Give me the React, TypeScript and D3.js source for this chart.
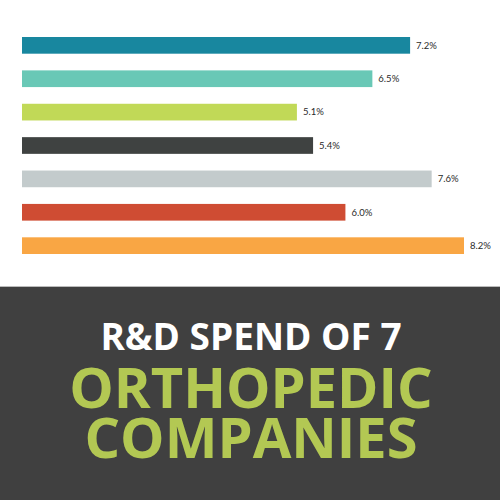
import * as d3 from 'd3';
import React from 'react';

const companies = ['A', 'B', 'C', 'D', 'E', 'F', 'G'];
const spend = [7.2, 6.5, 5.1, 5.4, 7.6, 6.0, 8.2];
const barColors = ['#18879f', '#69c8b6', '#c1d957', '#3f4241', '#c3cbcc', '#cf4c33', '#f9a644'];
const titleLines = ['R&D SPEND OF 7', 'ORTHOPEDIC', 'COMPANIES'];

export default () => {
    const width = 500;
    const height = 500;

    const xScale = d3.scaleLinear().domain([0, 8.2]).range([22, 464]);
    const yScale = d3.scaleBand().domain(companies).range([37, 254]).paddingInner(0.5).paddingOuter(0);

    return (
        <svg width={width} height={height} style={{ position: 'absolute', left: 0, top: 0 }}>
            <rect x={0} y={0} width={width} height={height} fill="#ffffff" />
            {companies.map((c, i) => (
                <g key={c}>
                    <rect
                        x={xScale(0)}
                        y={yScale(c)}
                        width={xScale(spend[i]) - xScale(0)}
                        height={yScale.bandwidth()}
                        fill={barColors[i]}
                    />
                    <text
                        x={xScale(spend[i]) + 6}
                        y={(yScale(c) as number) + yScale.bandwidth() / 2}
                        dy="0.35em"
                        fontFamily="Lato, 'Open Sans', sans-serif"
                        fontSize={9.5}
                        fill="#2a2a2a"
                    >
                        {spend[i].toFixed(1)}%
                    </text>
                </g>
            ))}
            <rect x={0} y={286} width={width} height={1} fill="#bbbbbb" />
            <rect x={0} y={287} width={width} height={213} fill="#404040" />
            <text x={251} y={350} textAnchor="middle" fontFamily="'Open Sans', sans-serif" fontWeight="bold" fontSize={37} fill="#ffffff">
                {titleLines[0]}
            </text>
            <text x={251} y={408} textAnchor="middle" fontFamily="'Open Sans', sans-serif" fontWeight="bold" fontSize={56} fill="#b3c853">
                {titleLines[1]}
            </text>
            <text x={251} y={458} textAnchor="middle" fontFamily="'Open Sans', sans-serif" fontWeight="bold" fontSize={56} fill="#b3c853">
                {titleLines[2]}
            </text>
        </svg>
    );
};
